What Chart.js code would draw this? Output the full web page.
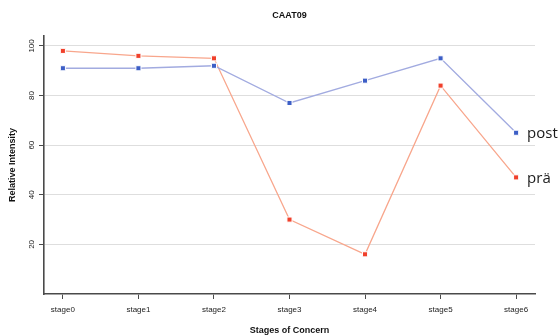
<!DOCTYPE html>
<html>
<head>
<meta charset="utf-8">
<script src="https://cdn.jsdelivr.net/npm/chart.js@4/dist/chart.umd.min.js"></script>
<style>
  html, body { margin: 0; padding: 0; background: #fff; }
  #wrap { width: 558px; height: 336px; }
</style>
</head>
<body>
<div id="wrap"><canvas id="myChart" width="558" height="336"></canvas></div>
<script>
const stages = ['stage0', 'stage1', 'stage2', 'stage3', 'stage4', 'stage5', 'stage6']
const postValues = [91, 91, 92, 77, 86, 95, 65]
const praeValues = [98, 96, 95, 30, 16, 84, 47]
const yTicks = [20, 40, 60, 80, 100]
const seriesNames = ['post', 'prä']
const chartTitle = 'CAAT09'

const toPoints = arr => arr.map((v, i) => ({ x: i, y: v }))

// title centred over the plot area, plus end-of-line labels by the last points
const annotations = {
  id: 'annotations',
  afterDatasetsDraw (chart) {
    const ctx = chart.ctx
    const xs = chart.scales.x
    const ys = chart.scales.y
    const area = chart.chartArea
    ctx.save()
    ctx.font = 'bold 9px "Liberation Sans", Arial'
    ctx.fillStyle = '#111'
    ctx.textAlign = 'center'
    ctx.textBaseline = 'middle'
    ctx.fillText(chartTitle, (area.left + area.right) / 2, 16)

    ctx.font = '15px "Open Sans"'
    ctx.fillStyle = '#1a1a1a'
    ctx.textAlign = 'left'
    chart.data.datasets.forEach((ds, i) => {
      const last = ds.data[ds.data.length - 1]
      ctx.fillText(seriesNames[i], xs.getPixelForValue(last.x) + 11, ys.getPixelForValue(last.y) + 1)
    })
    ctx.restore()
  }
}

const config = {
  type: 'line',
  data: {
    datasets: [{
      label: seriesNames[0],
      data: toPoints(postValues),
      borderColor: '#a2abe0',
      backgroundColor: '#3c5ec6',
      borderWidth: 1.3,
      pointStyle: 'rect',
      pointRadius: 3.6,
      pointBorderColor: '#fff',
      pointBorderWidth: 1,
      pointBackgroundColor: '#3c5ec6'
    }, {
      label: seriesNames[1],
      data: toPoints(praeValues),
      borderColor: '#f8a68c',
      backgroundColor: '#f0402b',
      borderWidth: 1.3,
      pointStyle: 'rect',
      pointRadius: 3.6,
      pointBorderColor: '#fff',
      pointBorderWidth: 1,
      pointBackgroundColor: '#f0402b'
    }]
  },
  options: {
    responsive: false,
    animation: false,
    layout: { padding: { right: 23, top: 36, bottom: 0, left: 0 } },
    plugins: {
      legend: { display: false },
      tooltip: { enabled: false },
      title: { display: false }
    },
    scales: {
      x: {
        type: 'linear',
        min: -0.25,
        max: 6.25,
        afterBuildTicks: scale => { scale.ticks = stages.map((s, i) => ({ value: i })) },
        afterFit: scale => { scale.height = 42 },
        border: { display: true, color: '#4a4a4a', width: 1.6 },
        grid: { drawOnChartArea: false, drawTicks: true, tickLength: 5, tickColor: '#4a4a4a' },
        ticks: {
          color: '#222',
          padding: 6,
          maxRotation: 0,
          autoSkip: false,
          font: { family: '"Liberation Sans", Arial', size: 8 },
          callback: v => stages[v]
        },
        title: {
          display: true,
          text: 'Stages of Concern',
          color: '#111',
          font: { family: '"Liberation Sans", Arial', size: 9, weight: 'bold' },
          padding: { top: 0, bottom: 0 }
        }
      },
      y: {
        min: 0,
        max: 104,
        afterBuildTicks: scale => { scale.ticks = yTicks.map(v => ({ value: v })) },
        afterFit: scale => { scale.width = 44 },
        border: { display: true, color: '#4a4a4a', width: 1.6 },
        grid: { color: '#dedede', lineWidth: 1, drawTicks: true, tickLength: 5, tickColor: '#4a4a4a' },
        ticks: {
          color: '#222',
          padding: 1,
          minRotation: 90,
          maxRotation: 90,
          crossAlign: 'center',
          font: { family: '"Liberation Sans", Arial', size: 8 }
        },
        title: {
          display: true,
          text: 'Relative Intensity',
          color: '#111',
          font: { family: '"Liberation Sans", Arial', size: 9, weight: 'bold' },
          padding: { top: 7, bottom: 0 }
        }
      }
    }
  },
  plugins: [annotations]
}

const myChart = new Chart(document.getElementById('myChart'), config)
</script>
</body>
</html>
